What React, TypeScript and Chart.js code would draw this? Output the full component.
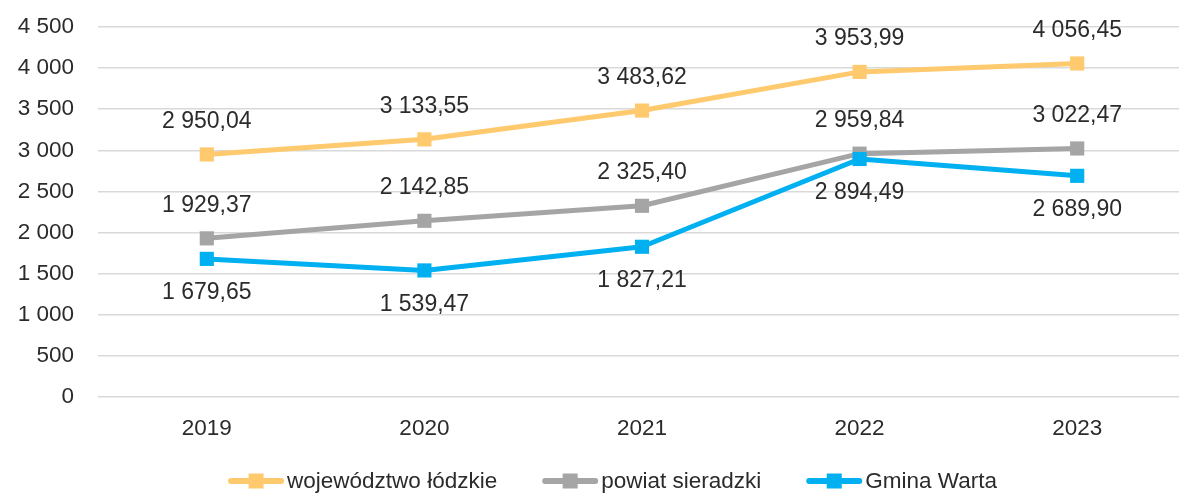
import React, { useEffect, useRef } from "react";
import { Chart, registerables } from "chart.js";

Chart.register(...registerables);

const categories = ["2019", "2020", "2021", "2022", "2023"];
const wojewodztwo = [2950.04, 3133.55, 3483.62, 3953.99, 4056.45];
const powiat = [1929.37, 2142.85, 2325.4, 2959.84, 3022.47];
const gmina = [1679.65, 1539.47, 1827.21, 2894.49, 2689.9];
const seriesNames = ["województwo łódzkie", "powiat sieradzki", "Gmina Warta"];
const seriesColors = ["#FFC96E", "#A5A5A5", "#00B0F0"];
const labelOffsets = [-33, -33, 34];

const FONT = "'Liberation Sans', Arial, sans-serif";
const TEXT_COLOR = "#2b2b2b";

function formatPl(v: number, decimals: number): string {
  const fixed = v.toFixed(decimals);
  const [intPart, dec] = fixed.split(".");
  const withSep = intPart.replace(/\B(?=(\d{3})+(?!\d))/g, " ");
  return dec ? withSep + "," + dec : withSep;
}

const dataLabelPlugin = {
  id: "dataLabels",
  afterDatasetsDraw(chart: any) {
    const ctx = chart.ctx;
    ctx.save();
    ctx.font = `23px ${FONT}`;
    ctx.fillStyle = TEXT_COLOR;
    ctx.textAlign = "center";
    ctx.textBaseline = "middle";
    chart.data.datasets.forEach((ds: any, i: number) => {
      const meta = chart.getDatasetMeta(i);
      meta.data.forEach((pt: any, j: number) => {
        ctx.fillText(formatPl(ds.data[j], 2), pt.x, pt.y + labelOffsets[i]);
      });
    });
    ctx.restore();
  },
};

const legendPlugin = {
  id: "customLegend",
  afterDraw(chart: any) {
    const ctx = chart.ctx;
    ctx.save();
    ctx.font = `22.5px ${FONT}`;
    const lineLen = 56;
    const textGap = 3;
    const itemGap = 45;
    const widths = seriesNames.map((n) => lineLen + textGap + ctx.measureText(n).width);
    const total = widths.reduce((a, b) => a + b, 0) + itemGap * (seriesNames.length - 1);
    let x = 612.5 - total / 2;
    const y = 481;
    seriesNames.forEach((name, i) => {
      ctx.strokeStyle = seriesColors[i];
      ctx.lineWidth = 6;
      ctx.lineCap = "round";
      ctx.beginPath();
      ctx.moveTo(x + 3, y);
      ctx.lineTo(x + lineLen - 3, y);
      ctx.stroke();
      ctx.fillStyle = seriesColors[i];
      ctx.fillRect(x + lineLen / 2 - 7.5, y - 7.5, 15, 15);
      ctx.fillStyle = TEXT_COLOR;
      ctx.textAlign = "left";
      ctx.textBaseline = "middle";
      ctx.fillText(name, x + lineLen + textGap, y + 1);
      x += widths[i] + itemGap;
    });
    ctx.restore();
  },
};

export default function App() {
  const canvasRef = useRef<HTMLCanvasElement | null>(null);

  useEffect(() => {
    if (!canvasRef.current) return;
    const seriesData = [wojewodztwo, powiat, gmina];
    const chart = new Chart(canvasRef.current, {
      type: "line",
      data: {
        labels: categories,
        datasets: seriesData.map((d, i) => ({
          label: seriesNames[i],
          data: d,
          borderColor: seriesColors[i],
          backgroundColor: seriesColors[i],
          borderWidth: 5,
          borderCapStyle: "round" as const,
          borderJoinStyle: "round" as const,
          pointStyle: "rect" as const,
          pointRadius: 10,
          pointBorderWidth: 0,
          pointBackgroundColor: seriesColors[i],
          tension: 0,
          fill: false,
          order: 2 - i,
        })),
      },
      options: {
        animation: false,
        responsive: false,
        devicePixelRatio: 1,
        layout: { padding: { top: 27, right: 1, bottom: 0, left: 0 } },
        plugins: {
          legend: { display: false },
          tooltip: { enabled: false },
        },
        scales: {
          x: {
            type: "category",
            offset: true,
            grid: { display: false, drawTicks: false },
            border: { display: false },
            ticks: {
              padding: 18,
              color: TEXT_COLOR,
              font: { family: FONT, size: 22.5 },
              maxRotation: 0,
            },
            afterFit(scale: any) {
              scale.height = 96;
            },
          },
          y: {
            min: 0,
            max: 4500,
            grid: {
              color: "#D9D9D9",
              lineWidth: 1.5,
              drawTicks: true,
              tickLength: 24,
              tickColor: "rgba(0,0,0,0)",
            },
            border: { display: false },
            ticks: {
              stepSize: 500,
              padding: 0,
              color: TEXT_COLOR,
              font: { family: FONT, size: 22.5 },
              callback: (v: any) => formatPl(Number(v), 0),
            },
            afterFit(scale: any) {
              scale.width = 98;
            },
          },
        },
      },
      plugins: [dataLabelPlugin, legendPlugin],
    });
    return () => chart.destroy();
  }, []);

  return (
    <div
      style={{
        position: "fixed",
        left: 0,
        top: 0,
        width: 1179,
        height: 493,
        overflow: "hidden",
        background: "#ffffff",
      }}
    >
      <canvas ref={canvasRef} width={1196} height={493} style={{ display: "block" }} />
    </div>
  );
}
